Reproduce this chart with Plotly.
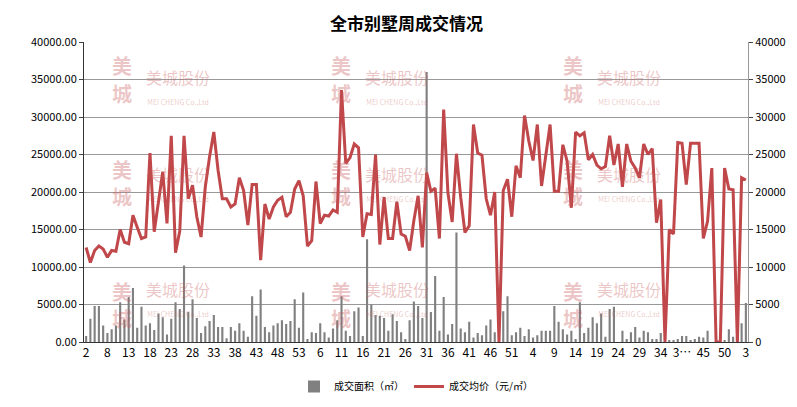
import plotly.graph_objects as go

weeks = ([2] + list(range(4, 54)) + list(range(2, 53)) + list(range(1, 40))
         + list(range(41, 53)) + [1, 2, 3])

area = [800, 3100, 4800, 4800, 2200, 1200, 1700, 2200, 5300, 3000,
        6000, 7200, 1900, 4700, 2200, 2500, 1600, 3800, 3300, 1000,
        3100, 5300, 4400, 10200, 4000, 5700, 3200, 1200, 2100, 2800,
        3600, 2000, 2000, 500, 2000, 1500, 2500, 1500, 700, 6100,
        3500, 7000, 2000, 1300, 2200, 2500, 2900, 2400, 2800, 5700,
        1900, 6600, 400, 1300, 1200, 2500, 1300, 600, 1800, 2900,
        6100, 1500, 800, 4100, 4600, 800, 13700, 5000, 3600, 3500,
        3200, 1500, 3700, 2800, 1300, 400, 2900, 5400, 4800, 3200,
        36000, 4000, 8800, 1500, 6000, 1000, 2400, 14600, 1800, 1300,
        2700, 600, 1200, 900, 2200, 3000, 1300, 0, 4100, 6100,
        900, 1300, 1900, 800, 1700, 600, 900, 1500, 1500, 1500,
        4800, 2700, 1700, 1000, 1500, 400, 5300, 1200, 1900, 3300,
        2500, 3800, 700, 4400, 4700, 0, 1500, 400, 1300, 2000,
        600, 1500, 1300, 400, 400, 1200, 0, 200, 200, 400,
        800, 800, 200, 400, 700, 600, 1500, 0, 200, 0,
        200, 1700, 700, 200, 2500, 5200]

price = [12600, 10600, 12200, 12800, 12400, 11300, 12200, 12100, 15000, 13300,
         13100, 16900, 15300, 13800, 14000, 25200, 14700, 18900, 22700, 15800,
         27500, 11900, 14800, 27500, 19100, 20900, 16700, 14000, 20700, 24700,
         28000, 22900, 19100, 19100, 18000, 18400, 21900, 20200, 15600, 21000,
         21000, 10900, 18400, 16400, 18000, 18900, 19300, 16700, 17300, 20400,
         21500, 19500, 12800, 13500, 21400, 15800, 16900, 16800, 17600, 17300,
         33600, 23800, 24600, 26400, 25900, 14000, 17100, 17000, 25000, 13000,
         19300, 13800, 13800, 18700, 14400, 14100, 12200, 16200, 19500, 12600,
         22600, 20100, 20500, 13800, 31000, 19900, 16000, 25100, 19300, 14600,
         15500, 29000, 25200, 24900, 19100, 16900, 20000, 0, 20200, 21700,
         16700, 23500, 21900, 30200, 26800, 24200, 29000, 20800, 25000, 29000,
         20100, 20100, 26300, 24100, 17900, 28000, 27500, 27900, 24300, 25000,
         23600, 23100, 23400, 27500, 23600, 26400, 20700, 26400, 24100, 23200,
         21900, 26400, 25000, 25800, 15900, 19000, 0, 15000, 14400, 26600,
         26500, 21000, 26500, 26500, 26500, 13800, 16100, 23200, 0, 0,
         23200, 20400, 20300, 0, 21900, 21600]

x = list(range(len(weeks)))
tickvals = x[::5]
ticktext = [str(w) for w in weeks[::5]]
ticktext[28] = "3…"

fig = go.Figure()
fig.add_trace(go.Bar(x=x, y=area, name="成交面积（㎡）", marker=dict(color="#808080", line=dict(width=0))))
fig.add_trace(go.Scatter(x=x, y=price, name="成交均价（元/㎡）", yaxis="y2", mode="lines",
                         line=dict(color="#c0474a", width=3)))

# 水印
wm = "rgba(200,90,90,0.35)"
for wx, wy in [(0.12, 0.93), (0.45, 0.93), (0.8, 0.93), (0.12, 0.53), (0.45, 0.53),
               (0.8, 0.53), (0.12, 0.07), (0.45, 0.07), (0.8, 0.07)]:
    for ch, dy in [("美", 0.045), ("城", -0.045)]:
        fig.add_annotation(text="<b>" + ch + "</b>", xref="paper", yref="paper", x=wx - 0.045,
                           y=wy + dy, xanchor="right", showarrow=False,
                           font=dict(size=20, color=wm, family="Noto Sans CJK SC"))
    fig.add_annotation(text="美城股份<br><span style='font-size:7px'>MEI CHENG Co.,Ltd</span>",
                       xref="paper", yref="paper", x=wx - 0.03, y=wy, xanchor="left",
                       showarrow=False, font=dict(size=16, color=wm, family="Noto Sans CJK SC"))

fig.update_layout(
    title=dict(text="<b>全市别墅周成交情况</b>", x=0.5, y=0.975, xanchor="center", yanchor="top",
               font=dict(size=17, color="black", family="Noto Sans CJK SC")),
    width=797, height=407, paper_bgcolor="white", plot_bgcolor="white",
    margin=dict(l=76, r=57, t=34, b=73, autoexpand=False), bargap=0.5,
    font=dict(family="Noto Sans CJK SC", size=12, color="#333"),
    xaxis=dict(tickvals=tickvals, ticktext=ticktext, range=[-0.5, len(x) - 0.5],
               showline=True, linecolor="#333", ticks="", tickfont=dict(size=12, color="black")),
    yaxis=dict(range=[0, 40000], dtick=5000, tickformat=".2f", gridcolor="#999",
               showline=True, linecolor="#333", ticks="outside", ticklen=4,
               tickfont=dict(size=11, color="black")),
    yaxis2=dict(range=[0, 40000], dtick=5000, tickformat="d", overlaying="y", side="right",
                showgrid=False, showline=True, linecolor="#999", ticks="outside", ticklen=4,
                tickfont=dict(size=11, color="black")),
    legend=dict(orientation="h", x=0.5, xanchor="center", y=-0.1, yanchor="top",
                font=dict(size=10, color="black")),
)

fig.write_html("out.html")
